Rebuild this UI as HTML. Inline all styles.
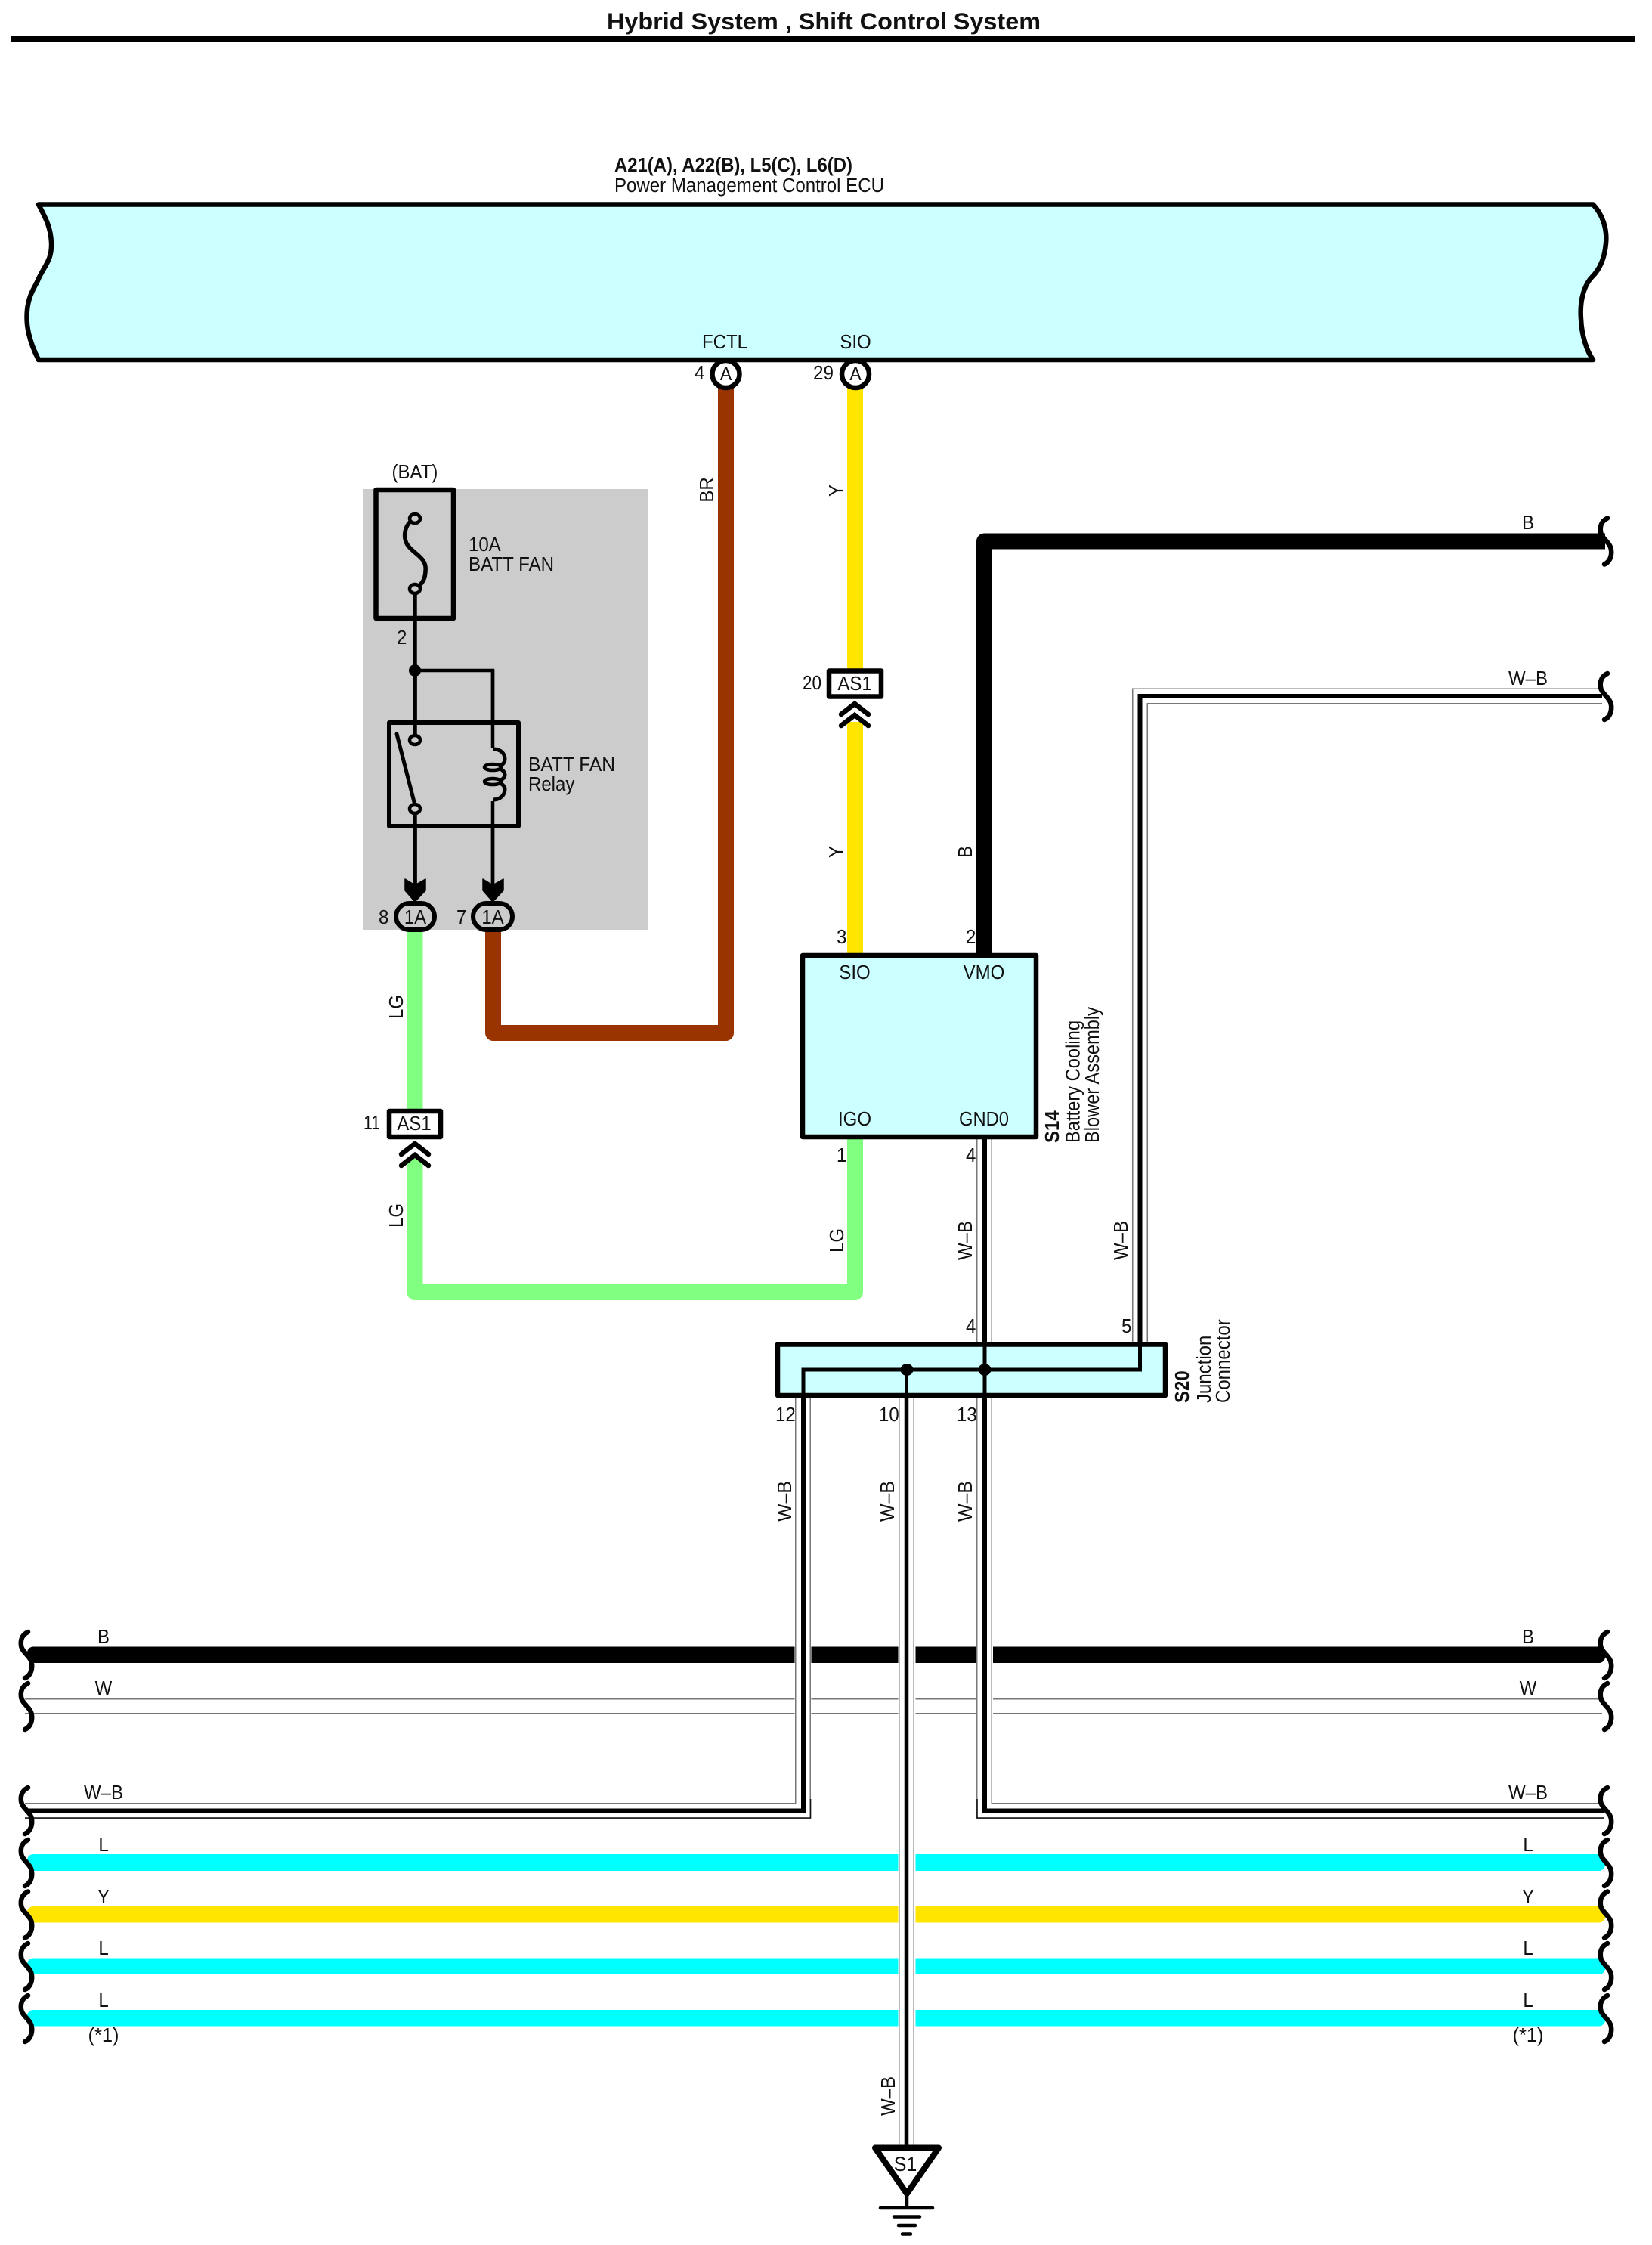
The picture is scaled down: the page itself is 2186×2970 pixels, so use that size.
<!DOCTYPE html>
<html><head><meta charset="utf-8"><title>Hybrid System, Shift Control System</title>
<style>html,body{margin:0;padding:0;background:#fff}svg{display:block}text{font-family:"Liberation Sans",sans-serif;font-size:24px;fill:#111;transform-box:fill-box;transform-origin:50% 81%;transform:scaleY(1.07)}.m{text-anchor:middle}.b{font-weight:bold}</style></head>
<body>
<svg xmlns="http://www.w3.org/2000/svg" width="2186" height="2970" viewBox="0 0 2186 2970">
<defs>
<path id="sq" d="M37 -30C29 -26 27 -20 28 -12C29 -3 41 2 42 12C43 20 40 28 33 31" fill="none" stroke="#000" stroke-width="6.5" stroke-linecap="round"/>
</defs>
<rect width="2186" height="2970" fill="#fff"/>
<!-- header -->
<text x="803" y="39" class="b" style="font-size:29px" textLength="574" lengthAdjust="spacingAndGlyphs">Hybrid System , Shift Control System</text>
<rect x="14" y="48" width="2149" height="7" fill="#000"/>
<text x="813" y="227" class="b" textLength="315" lengthAdjust="spacingAndGlyphs">A21(A), A22(B), L5(C), L6(D)</text>
<text x="813" y="254" textLength="357" lengthAdjust="spacingAndGlyphs">Power Management Control ECU</text>
<!-- ECU -->
<path d="M51 270.5L2108 270.5C2120 283 2127 302 2125 322C2123 345 2115 358 2107 366C2097 376 2090 396 2092 422C2093 445 2100 465 2108 476L51 476C38 450 34 430 36 410C38 390 46 380 50 371C58 352 69 345 68 321C67 300 60 288 51 270.5Z" fill="#ccffff" stroke="#000" stroke-width="6.5" stroke-linejoin="round"/>
<text x="959" y="461" class="m">FCTL</text>
<text x="1132" y="461" class="m">SIO</text>
<!-- gray relay block -->
<rect x="480" y="647" width="378" height="583" fill="#ccc"/>
<!-- coloured wires -->
<path d="M652.5 1225V1366.5H960.5V510" fill="none" stroke="#993300" stroke-width="21" stroke-linejoin="round"/>
<path d="M1131.5 510V890M1131.5 955V1264" fill="none" stroke="#ffe500" stroke-width="21"/>
<path d="M549 1225V1470M549 1533V1709.5H1131.5V1504" fill="none" stroke="#80ff80" stroke-width="21" stroke-linejoin="round"/>
<path d="M1302.5 1264V716H2124" fill="none" stroke="#000" stroke-width="21" stroke-linejoin="round"/>
<!-- pins on ECU -->
<circle cx="960.5" cy="495" r="18" fill="#fff" stroke="#000" stroke-width="6.5"/>
<circle cx="1132" cy="495" r="18" fill="#fff" stroke="#000" stroke-width="6.5"/>
<text x="960.5" y="503" class="m" style="font-size:23px">A</text>
<text x="1132" y="503" class="m" style="font-size:23px">A</text>
<text x="919" y="502">4</text>
<text x="1076" y="502" textLength="27" lengthAdjust="spacingAndGlyphs">29</text>
<!-- fuse -->
<text x="549" y="633" class="m">(BAT)</text>
<rect x="497.5" y="648" width="102.5" height="170" fill="none" stroke="#000" stroke-width="6.5" stroke-linejoin="round"/>
<path d="M549 686C535 692 532 712 540 722C548 733 565 738 563 755C563 768 556 775 549 779" fill="none" stroke="#000" stroke-width="5.5"/>
<path d="M549 779V1180" fill="none" stroke="#000" stroke-width="5.5"/>
<path d="M549 887H652V1180" fill="none" stroke="#000" stroke-width="4.5"/>
<ellipse cx="549" cy="686" rx="7" ry="6" fill="#ccc" stroke="#000" stroke-width="4.5"/>
<ellipse cx="549" cy="779" rx="7" ry="6" fill="#ccc" stroke="#000" stroke-width="4.5"/>
<text x="620" y="729">10A</text>
<text x="620" y="755" textLength="113" lengthAdjust="spacingAndGlyphs">BATT FAN</text>
<text x="525" y="852">2</text>
<circle cx="549" cy="887" r="8" fill="#000"/>
<!-- relay -->
<rect x="515" y="956" width="171" height="137" fill="#ccc" stroke="#000" stroke-width="6" stroke-linejoin="round"/>
<path d="M549 887V979M549 1070V1180" fill="none" stroke="#000" stroke-width="5.5"/>
<path d="M652 887V990M652 1058V1180" fill="none" stroke="#000" stroke-width="4.5"/>
<rect x="540" y="985" width="18" height="80" fill="#ccc"/>
<rect x="640" y="990" width="24" height="70" fill="#ccc"/>
<ellipse cx="549" cy="979" rx="7" ry="6" fill="#ccc" stroke="#000" stroke-width="4.5"/>
<ellipse cx="549" cy="1070" rx="7" ry="6" fill="#ccc" stroke="#000" stroke-width="4.5"/>
<path d="M525 971L548 1061" fill="none" stroke="#000" stroke-width="5" stroke-linecap="round"/>
<path d="M652 991C664 991 668 998 668 1004C668 1012 660 1015 652 1015C660 1015 668 1019 668 1025C668 1031 660 1034 652 1034C660 1034 668 1038 668 1044C668 1052 662 1058 652 1058" fill="none" stroke="#000" stroke-width="5"/>
<ellipse cx="652" cy="1015" rx="11" ry="4" fill="#ccc" stroke="#000" stroke-width="4.5"/>
<ellipse cx="652" cy="1034" rx="11" ry="4" fill="#ccc" stroke="#000" stroke-width="4.5"/>
<text x="699" y="1020" textLength="115" lengthAdjust="spacingAndGlyphs">BATT FAN</text>
<text x="699" y="1046">Relay</text>
<!-- arrows and 1A connectors -->
<path d="M536 1163L549 1171L563 1163V1178L549 1193L536 1178Z" fill="#000" stroke="#000" stroke-width="1.5" stroke-linejoin="round"/>
<path d="M639 1163L652 1171L666 1163V1178L652 1193L639 1178Z" fill="#000" stroke="#000" stroke-width="1.5" stroke-linejoin="round"/>
<rect x="524" y="1195" width="51" height="35" rx="17.5" fill="#ccc" stroke="#000" stroke-width="6"/>
<rect x="626" y="1195" width="52" height="35" rx="17.5" fill="#ccc" stroke="#000" stroke-width="6"/>
<text x="549.5" y="1222" class="m">1A</text>
<text x="652" y="1222" class="m">1A</text>
<text x="501" y="1222">8</text>
<text x="604" y="1222">7</text>
<!-- AS1 left -->
<rect x="515" y="1470" width="68" height="34" fill="#fff" stroke="#000" stroke-width="6.5" stroke-linejoin="round"/>
<text x="548" y="1495" class="m">AS1</text>
<text x="481" y="1494" textLength="22" lengthAdjust="spacingAndGlyphs">11</text>
<path d="M531 1527L549 1513L567 1527M531 1542L549 1528L567 1542" fill="none" stroke="#000" stroke-width="6.5" stroke-linecap="round"/>
<!-- AS1 right -->
<rect x="1097" y="887.5" width="69" height="34" fill="#fff" stroke="#000" stroke-width="6.5" stroke-linejoin="round"/>
<text x="1131" y="913" class="m">AS1</text>
<text x="1062" y="912" textLength="25" lengthAdjust="spacingAndGlyphs">20</text>
<path d="M1113 945L1131 931L1149 945M1113 960L1131 946L1149 960" fill="none" stroke="#000" stroke-width="6.5" stroke-linecap="round"/>
<!-- rotated wire labels -->
<g transform="translate(944 648) rotate(-90)"><text class="m">BR</text></g>
<g transform="translate(1115 649) rotate(-90)"><text class="m">Y</text></g>
<g transform="translate(1115 1127) rotate(-90)"><text class="m">Y</text></g>
<g transform="translate(1286 1127) rotate(-90)"><text class="m">B</text></g>
<g transform="translate(533 1332) rotate(-90)"><text class="m">LG</text></g>
<g transform="translate(533 1608) rotate(-90)"><text class="m">LG</text></g>
<g transform="translate(1116 1641) rotate(-90)"><text class="m">LG</text></g>
<g transform="translate(1286 1641) rotate(-90)"><text class="m">W–B</text></g>
<g transform="translate(1492 1641) rotate(-90)"><text class="m">W–B</text></g>
<g transform="translate(1047 1986) rotate(-90)"><text class="m" textLength="54" lengthAdjust="spacingAndGlyphs">W–B</text></g>
<g transform="translate(1183 1986) rotate(-90)"><text class="m" textLength="54" lengthAdjust="spacingAndGlyphs">W–B</text></g>
<g transform="translate(1286 1986) rotate(-90)"><text class="m" textLength="54" lengthAdjust="spacingAndGlyphs">W–B</text></g>
<g transform="translate(1184 2773) rotate(-90)"><text class="m">W–B</text></g>
<!-- bottom bus -->
<g>
<rect x="36" y="2178.5" width="2088" height="21.5" rx="8" fill="#000"/>
<path d="M33 2247.5H2120M33 2267H2120" stroke="#777" stroke-width="2" fill="none"/>
<rect x="36" y="2453" width="2088" height="22" rx="8" fill="#00ffff"/>
<rect x="36" y="2522" width="2088" height="21.5" rx="8" fill="#ffe500"/>
<rect x="36" y="2590.5" width="2088" height="21.5" rx="8" fill="#00ffff"/>
<rect x="36" y="2659" width="2088" height="21.5" rx="8" fill="#00ffff"/>
</g>
<!-- W-B double wires -->
<path d="M1200 1849V2840" fill="none" stroke="#fff" stroke-width="23"/>
<path d="M1062.5 2360V2160M1303 2360V2160" fill="none" stroke="#fff" stroke-width="22"/>
<path d="M1062.5 1849V2395.5H33M1199.5 1849V2840M1302.5 1507V2395.5H2123M1508.5 1778V921H2120" fill="none" stroke="#777" stroke-width="21"/>
<path d="M1062.5 1849V2395.5H33M1199.5 1849V2840M1302.5 1507V2395.5H2123M1508.5 1778V921H2120" fill="none" stroke="#fff" stroke-width="18"/>
<path d="M33 2405H1072.5V2380M2123 2405H1293V2380" fill="none" stroke="#111" stroke-width="1.6"/>
<path d="M1063 1849V2395.5H33M1303 1507V2395.5H2123M1508.5 1778V921H2120" fill="none" stroke="#000" stroke-width="6"/>
<path d="M1199.5 1849V2840" fill="none" stroke="#000" stroke-width="5.5"/>
<!-- S14 -->
<rect x="1062" y="1264" width="309" height="240" fill="#ccffff" stroke="#000" stroke-width="6.5" stroke-linejoin="round"/>
<text x="1131" y="1295" class="m">SIO</text>
<text x="1302" y="1295" class="m">VMO</text>
<text x="1131" y="1489" class="m">IGO</text>
<text x="1302" y="1489" class="m" textLength="66" lengthAdjust="spacingAndGlyphs">GND0</text>
<text x="1107" y="1248">3</text>
<text x="1278" y="1248">2</text>
<text x="1107" y="1537">1</text>
<text x="1278" y="1537">4</text>
<text x="1278" y="1763">4</text>
<text x="1484" y="1763">5</text>
<g transform="translate(1401 1512) rotate(-90)"><text class="b">S14</text></g>
<g transform="translate(1428.5 1512) rotate(-90)"><text textLength="162" lengthAdjust="spacingAndGlyphs">Battery Cooling</text></g>
<g transform="translate(1454 1512) rotate(-90)"><text textLength="180" lengthAdjust="spacingAndGlyphs">Blower Assembly</text></g>
<!-- S20 -->
<rect x="1029" y="1778.5" width="513" height="67.5" fill="#ccffff" stroke="#000" stroke-width="6.5" stroke-linejoin="round"/>
<path d="M1063 1849V1812H1508.5V1776M1303 1776V1849M1199.5 1812V1849" fill="none" stroke="#000" stroke-width="5"/>
<ellipse cx="1200" cy="1812" rx="8.5" ry="8" fill="#000"/>
<ellipse cx="1303" cy="1812" rx="8.5" ry="8" fill="#000"/>
<text x="1026" y="1880">12</text>
<text x="1163" y="1880">10</text>
<text x="1266" y="1880">13</text>
<g transform="translate(1573 1856) rotate(-90)"><text class="b">S20</text></g>
<g transform="translate(1602 1856) rotate(-90)"><text>Junction</text></g>
<g transform="translate(1627 1856) rotate(-90)"><text>Connector</text></g>
<!-- bus labels -->
<text x="137" y="2174" class="m">B</text><text x="137" y="2242" class="m">W</text><text x="137" y="2380" class="m">W–B</text>
<text x="137" y="2449" class="m">L</text><text x="137" y="2518" class="m">Y</text><text x="137" y="2586" class="m">L</text><text x="137" y="2655" class="m">L</text>
<text x="137" y="2701" class="m" textLength="41" lengthAdjust="spacingAndGlyphs">(*1)</text>
<text x="2022" y="2174" class="m">B</text><text x="2022" y="2242" class="m">W</text><text x="2022" y="2380" class="m">W–B</text>
<text x="2022" y="2449" class="m">L</text><text x="2022" y="2518" class="m">Y</text><text x="2022" y="2586" class="m">L</text><text x="2022" y="2655" class="m">L</text>
<text x="2022" y="2701" class="m" textLength="41" lengthAdjust="spacingAndGlyphs">(*1)</text>
<text x="2022" y="700" class="m">B</text><text x="2022" y="906" class="m">W–B</text>
<!-- squiggles -->
<use href="#sq" x="0" y="2189"/><use href="#sq" x="0" y="2257"/><use href="#sq" x="0" y="2395"/><use href="#sq" x="0" y="2464"/><use href="#sq" x="0" y="2532.5"/><use href="#sq" x="0" y="2601"/><use href="#sq" x="0" y="2670"/>
<use href="#sq" x="2090" y="2189"/><use href="#sq" x="2090" y="2257"/><use href="#sq" x="2090" y="2395"/><use href="#sq" x="2090" y="2464"/><use href="#sq" x="2090" y="2532.5"/><use href="#sq" x="2090" y="2601"/><use href="#sq" x="2090" y="2670"/>
<use href="#sq" x="2090" y="715.5"/><use href="#sq" x="2090" y="921"/>
<!-- ground -->
<path d="M1158 2841.5H1242L1200 2902Z" fill="#fff" stroke="#000" stroke-width="8" stroke-linejoin="round"/>
<text x="1198" y="2872" class="m" style="font-size:25px">S1</text>
<path d="M1200 2902V2921" stroke="#000" stroke-width="4.5" fill="none"/>
<path d="M1165 2921H1234M1183 2932.5H1217M1189 2944H1211M1194 2955.5H1205" stroke="#000" stroke-width="4.5" stroke-linecap="round" fill="none"/>
</svg>
</body></html>
